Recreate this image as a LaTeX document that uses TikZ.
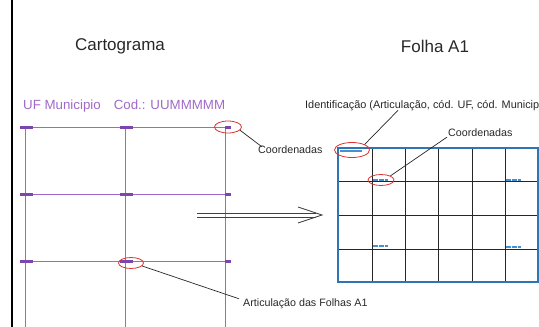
\documentclass[tikz,border=0pt]{standalone}
\usepackage{fontspec}
\setmainfont{Liberation Sans}
\usepackage{xcolor}
\usetikzlibrary{shapes,shapes.geometric,arrows.meta,positioning,calc}
\definecolor{cartopurple}{RGB}{160,105,200}
\definecolor{markpurple}{RGB}{125,70,175}
\definecolor{folhablue}{RGB}{46,117,182}
\definecolor{markblue}{RGB}{70,145,205}
\definecolor{circred}{RGB}{220,50,50}
\definecolor{textgray}{RGB}{40,40,40}

\tikzset{
  cartoline/.style={cartopurple, line width=0.9pt},
  cartomark/.style={fill=markpurple, draw=none},
  folhaline/.style={black!85, line width=0.9pt},
  redring/.style={draw=circred, ellipse, line width=0.8pt, inner sep=0pt},
  pointer/.style={black!85, line width=0.7pt},
  bigarrow/.style={black!75, line width=0.9pt},
  smalllbl/.style={text=textgray, inner sep=1pt, font=\fontsize{10.7}{12}\selectfont},
  titlelbl/.style={text=textgray, font=\fontsize{17}{20}\selectfont}
}

\begin{document}
\begin{tikzpicture}[x=1pt, y=-1pt]
				\useasboundingbox (0,0) rectangle (539,327);
				
				% Draw page edge
				\draw[line width=1.5pt] (12,0) -- (12,327);
				
				% Draw titles
				\node[titlelbl] (cartotitle) at (120,46) {Cartograma};
				\node[titlelbl] (folhatitle) at (435,46) {Folha A1};
				\node[anchor=west, inner sep=0pt, text=cartopurple, font=\fontsize{13.3}{15}\selectfont] (cartohead) at (23,106) {UF Municipio\hspace{13pt}Cod.: UUMMMMM};
				
				% Draw cartogram grid
				\foreach \y in {127,194,261}
					\draw[cartoline] (20,\y) -- (231,\y);
				\foreach \x in {25,125,225}
					\draw[cartoline] (\x,127) -- (\x,327);
				\foreach \y in {127,194,261} {
					\foreach \x in {25,125}
						\fill[cartomark] (\x-5,\y-1.2) rectangle (\x+8,\y+2);
					\fill[cartomark] (225,\y-1.5) rectangle (231,\y+1.5);
				}
				
				% Draw sheet grid
				\foreach \x in {372,405,438,472,505}
					\draw[folhaline] (\x,148) -- (\x,282);
				\foreach \y in {181,215,249}
					\draw[folhaline] (338,\y) -- (538,\y);
				\draw[folhablue, line width=1.2pt] (338,148) rectangle (538,282);
				
				% Draw sheet marks
				\draw[markblue, line width=1.8pt] (340,151) -- (362,151);
				\foreach \x/\y in {373/180,506/180,373/246,506/247}
					\draw[markblue, line width=1.6pt, dash pattern=on 5pt off 0.8pt] (\x,\y) -- (\x+15,\y);
				
				% Draw the big arrow
				\coordinate (arrowfrom) at (197,215);
				\coordinate (arrowto) at (322,215);
				\draw[bigarrow] ($(arrowfrom)+(0,-2)$) -- ($(arrowto)+(-6,-2)$);
				\draw[bigarrow] ($(arrowfrom)+(0,2)$) -- ($(arrowto)+(-6,2)$);
				\draw[bigarrow] ($(arrowto)+(-24,-8)$) -- (arrowto) -- ($(arrowto)+(-24,8)$);
				
				% Draw red rings
				\node[redring, minimum width=27pt, minimum height=12pt] (cornerring) at (228,127) {};
				\node[redring, minimum width=25pt, minimum height=11pt] (articring) at (131,263) {};
				\node[redring, minimum width=35pt, minimum height=15pt] (identring) at (352,150) {};
				\node[redring, minimum width=26pt, minimum height=11pt] (coordring) at (381,180) {};
				
				% Draw labels
				\node[smalllbl, anchor=west] (coordlbl) at (257,150) {Coordenadas};
				\node[smalllbl, anchor=west] (articlbl) at (242,304) {Articulação das Folhas A1};
				\node[smalllbl, anchor=west, font=\fontsize{10.9}{13}\selectfont] (identlbl) at (304,106) {Identificação (Articulação, cód. UF, cód. Municip};
				\node[smalllbl, anchor=west] (coordlbl2) at (447,133) {Coordenadas};
				
				% Draw pointer lines
				\draw[pointer] (cornerring.-15) -- ($(coordlbl.north west)+(5,2)$);
				\draw[pointer] (articring.-15) -- ($(articlbl.north west)+(-3,1)$);
				\draw[pointer] (identring.north east) -- ($(identlbl.south west)+(94,-2)$);
				\draw[pointer] (coordring.north east) -- ($(coordlbl2.south west)+(0,-1)$);
			\end{tikzpicture}
\end{document}
